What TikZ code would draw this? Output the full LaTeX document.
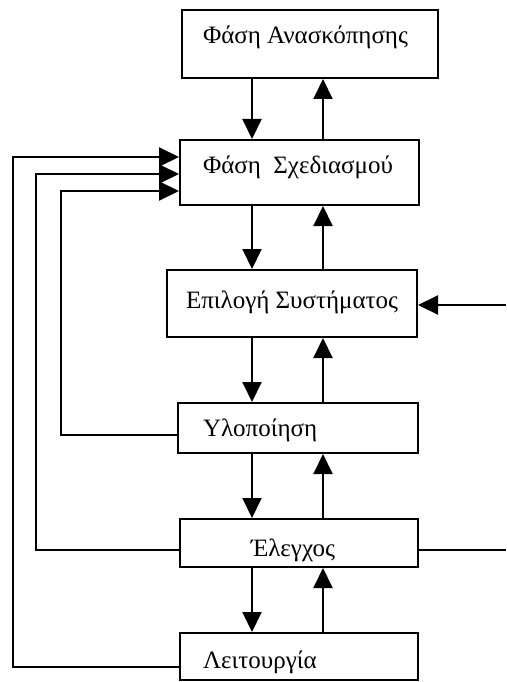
\documentclass[tikz,border=0pt]{standalone}
\usepackage{fontspec}
\setmainfont{Liberation Serif}
\usetikzlibrary{arrows.meta}

\begin{document}
\begin{tikzpicture}[x=1pt, y=-1pt, line width=2pt,
    font=\fontsize{25}{30}\selectfont,
    kouti/.style={rectangle, draw, minimum width=238pt},
    keimeno/.style={anchor=west, inner sep=0pt},
    velos/.style={-{Triangle[length=20pt, width=19pt]}}]

    \useasboundingbox (0,0) rectangle (506,682);

    % ta kouta ton faseon
    \node[kouti, minimum width=256pt, minimum height=68pt] (anaskopisi) at (310,44) {};
    \node[kouti, minimum width=239pt, minimum height=65pt] (sxediasmos) at (299.5,172.5) {};
    \node[kouti, minimum width=250pt, minimum height=67pt] (epilogi) at (292,303.5) {};
    \node[kouti, minimum width=240pt, minimum height=50pt] (ylopoiisi) at (298,428) {};
    \node[kouti, minimum height=48pt] (elegxos) at (299,543) {};
    \node[kouti, minimum height=47pt] (leitourgia) at (299,656.5) {};

    % ta keimena
    \node[keimeno] (anaskopisi-k) at (202,37) {Φάση Ανασκόπησης};
    \node[keimeno] (sxediasmos-k) at (202,167) {Φάση \ Σχεδιασμού};
    \node[keimeno] (epilogi-k) at (185,302) {Επιλογή Συστήματος};
    \node[keimeno] (ylopoiisi-k) at (202,430) {Υλοποίηση};
    \node[keimeno] (elegxos-k) at (250,550) {Έλεγχος};
    \node[keimeno] (leitourgia-k) at (202,662) {Λειτουργία};

    % kathetes grammes kato kai pano
    \coordinate (kato) at (252,0);
    \coordinate (pano) at (323,0);
    \foreach \a/\b in {anaskopisi/sxediasmos, sxediasmos/epilogi, epilogi/ylopoiisi,
                       ylopoiisi/elegxos, elegxos/leitourgia} {
        \draw[velos] (\a.south -| kato) -- (\b.north -| kato);
        \draw[velos] (\b.north -| pano) -- (\a.south -| pano);
    }

    % anatrofodotisi pros ton schediasmo
    \coordinate (eso) at (61,300);
    \coordinate (mesi) at (36,300);
    \coordinate (exo) at (13,300);
    \draw[velos] ([yshift=-7pt]ylopoiisi.west) -| (eso) |- ([yshift=-18.5pt]sxediasmos.west);
    \draw[velos] ([yshift=-7pt]elegxos.west) -| (mesi) |- ([yshift=-1.5pt]sxediasmos.west);
    \draw[velos] ([yshift=-10.5pt]leitourgia.west) -| (exo) |- ([yshift=15.5pt]sxediasmos.west);

    % grammes pros ta dexia
    \coordinate (dexia1) at (506,305);
    \coordinate (dexia2) at (506,550);
    \draw[velos] (dexia1) -- (epilogi.east |- dexia1);
    \draw (elegxos.east |- dexia2) -- (dexia2);

\end{tikzpicture}
\end{document}
